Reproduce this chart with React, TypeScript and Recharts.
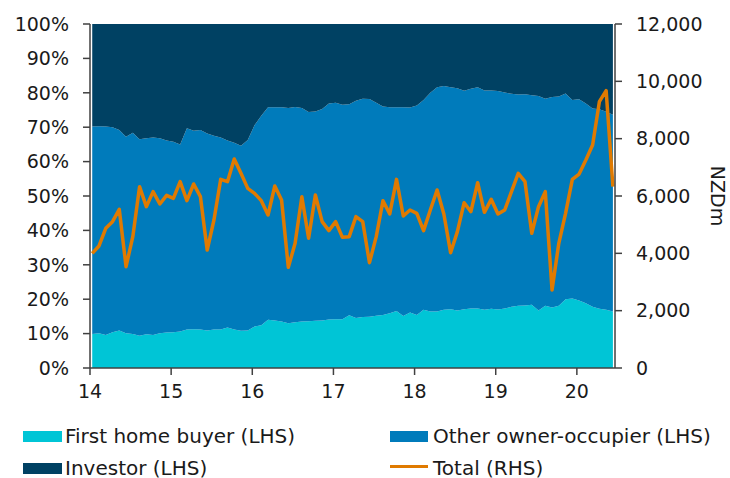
import React from 'react';
import { ComposedChart, Area, Line, XAxis, YAxis } from 'recharts';

// Monthly, Jan 2014 - Jun 2020
const firstHome = [
  9.9, 10.1, 9.6, 10.4, 10.9, 10.1, 9.9, 9.4, 9.8, 9.6, 10.1, 10.3,
  10.4, 10.6, 11.2, 11.3, 11.2, 10.9, 11.2, 11.2, 11.8, 11.2, 10.8, 10.9,
  12.1, 12.4, 14.0, 13.8, 13.5, 13.0, 13.3, 13.5, 13.6, 13.7, 13.8, 14.1,
  14.2, 14.2, 15.3, 14.5, 14.8, 14.9, 15.2, 15.4, 15.9, 16.6, 15.1, 16.1,
  15.4, 16.9, 16.4, 16.4, 16.9, 17.1, 16.7, 17.1, 17.3, 17.3, 16.9, 17.2,
  17.0, 17.3, 17.8, 18.1, 18.2, 18.4, 16.7, 18.1, 17.6, 18.1, 20.0, 20.2,
  19.6, 18.8, 17.8, 17.2, 16.9, 16.4,
];

const otherOwner = [
  60.3, 60.2, 60.6, 59.6, 58.3, 57.1, 58.5, 57.1, 57.0, 57.4, 56.7, 55.8,
  55.4, 54.4, 58.5, 57.7, 58.0, 57.3, 56.3, 55.8, 54.3, 54.3, 53.8, 55.4,
  58.5, 60.9, 61.8, 62.0, 62.3, 62.6, 62.6, 62.1, 60.8, 60.9, 61.5, 62.8,
  62.9, 62.3, 61.4, 63.2, 63.5, 63.3, 61.9, 60.6, 59.9, 59.2, 60.7, 59.6,
  60.9, 61.0, 63.6, 65.2, 65.1, 64.5, 64.6, 63.5, 63.9, 64.3, 63.8, 63.5,
  63.5, 62.8, 61.9, 61.4, 61.4, 60.9, 62.4, 60.2, 61.2, 60.8, 59.8, 57.7,
  58.5, 58.1, 57.6, 58.0, 57.6, 57.2,
];

const investor = [
  29.8, 29.7, 29.8, 30.0, 30.8, 32.8, 31.6, 33.5, 33.2, 33.0, 33.2, 33.9,
  34.2, 35.0, 30.3, 31.0, 30.8, 31.8, 32.5, 33.0, 33.9, 34.5, 35.4, 33.7,
  29.4, 26.7, 24.2, 24.2, 24.2, 24.4, 24.1, 24.4, 25.6, 25.4, 24.7, 23.1,
  22.9, 23.5, 23.3, 22.3, 21.7, 21.8, 22.9, 24.0, 24.2, 24.2, 24.2, 24.3,
  23.7, 22.1, 20.0, 18.4, 18.0, 18.4, 18.7, 19.4, 18.8, 18.4, 19.3, 19.3,
  19.5, 19.9, 20.3, 20.5, 20.4, 20.7, 20.9, 21.7, 21.2, 21.1, 20.2, 22.1,
  21.9, 23.1, 24.6, 24.8, 25.5, 26.4,
];

const total = [
  4000, 4256, 4872, 5105, 5535, 3535, 4581, 6326, 5628, 6152, 5721, 6023,
  5919, 6500, 5837, 6419, 5977, 4116, 5163, 6581, 6500, 7291, 6791, 6267,
  6093, 5837, 5337, 6349, 5860, 3512, 4349, 5977, 4523, 6035, 5105, 4791,
  5105, 4558, 4581, 5279, 5105, 3674, 4581, 5837, 5372, 6581, 5302, 5512,
  5395, 4791, 5512, 6209, 5372, 4023, 4756, 5767, 5453, 6465, 5430, 5884,
  5372, 5512, 6152, 6791, 6500, 4698, 5628, 6152, 2721, 4349, 5395, 6581,
  6767, 7256, 7779, 9291, 9674, 6326,
];

const startYear = 14;
const xTicks = [14, 15, 16, 17, 18, 19, 20];
const leftTicks = [0, 10, 20, 30, 40, 50, 60, 70, 80, 90, 100];
const rightTicks = [0, 2000, 4000, 6000, 8000, 10000, 12000];

const seriesNames = {
  firstHome: 'First home buyer (LHS)',
  otherOwner: 'Other owner-occupier (LHS)',
  investor: 'Investor (LHS)',
  total: 'Total (RHS)',
};

const COLORS = {
  firstHome: '#00C5D6',
  otherOwner: '#007BBB',
  investor: '#004163',
  total: '#E07A00',
};

const data = firstHome.map((v, i) => ({
  x: startYear + (i + 0.33) / 12,
  firstHome: v,
  otherOwner: otherOwner[i],
  investor: investor[i],
  total: total[i],
}));

const FONT = '"DejaVu Sans", Verdana, sans-serif';
const AXIS = '#404040';
const TEXT = '#1a1a1a';

const tickStyle = { fill: TEXT, fontSize: 19, fontFamily: FONT };

const NzdLabel = (props: any) => {
  const vb = props.viewBox || {};
  const x = vb.x + vb.width - 12;
  const y = vb.y + vb.height / 2;
  return (
    <text
      x={x}
      y={y}
      transform={`rotate(90 ${x} ${y})`}
      textAnchor="middle"
      dominantBaseline="central"
      fill={TEXT}
      fontSize={19}
      fontFamily={FONT}
    >
      NZDm
    </text>
  );
};

const LF = 20;

const Legendbox = () => (
  <svg
    width={730}
    height={478}
    style={{ position: 'absolute', left: 0, top: 0, pointerEvents: 'none' }}
  >
    <rect x={23} y={431} width={39} height={11} fill={COLORS.firstHome} />
    <text x={65} y={443} fontSize={LF} fontFamily={FONT} fill={TEXT}>
      {seriesNames.firstHome}
    </text>
    <rect x={390} y={431} width={38} height={11} fill={COLORS.otherOwner} />
    <text x={433} y={443} fontSize={LF} fontFamily={FONT} fill={TEXT}>
      {seriesNames.otherOwner}
    </text>
    <rect x={23} y={463} width={39} height={11} fill={COLORS.investor} />
    <text x={65} y={474.5} fontSize={LF} fontFamily={FONT} fill={TEXT}>
      {seriesNames.investor}
    </text>
    <line x1={390} x2={428} y1={466.5} y2={466.5} stroke={COLORS.total} strokeWidth={3} />
    <text x={433} y={474.5} fontSize={LF} fontFamily={FONT} fill={TEXT}>
      {seriesNames.total}
    </text>
  </svg>
);

export default function App() {
  return (
    <div style={{ position: 'relative', width: 730, height: 478, background: '#fff' }}>
      <style>{`body{margin:0;}`}</style>
      <ComposedChart
        width={730}
        height={478}
        data={data}
        margin={{ top: 24, right: 0, bottom: 80, left: 0 }}
      >
        <XAxis
          dataKey="x"
          type="number"
          domain={[14, 20.47]}
          ticks={xTicks}
          tick={tickStyle}
          tickSize={7}
          tickMargin={10}
          height={30}
          axisLine={{ stroke: AXIS, strokeWidth: 1.5 }}
          tickLine={{ stroke: AXIS, strokeWidth: 1.5 }}
          allowDataOverflow
        />
        <YAxis
          yAxisId="left"
          orientation="left"
          domain={[0, 100]}
          ticks={leftTicks}
          tickFormatter={(v: number) => `${v}%`}
          tick={tickStyle}
          tickSize={7}
          tickMargin={14}
          width={90}
          axisLine={{ stroke: AXIS, strokeWidth: 1.5 }}
          tickLine={{ stroke: AXIS, strokeWidth: 1.5 }}
          allowDataOverflow
        />
        <YAxis
          yAxisId="right"
          orientation="right"
          domain={[0, 12000]}
          ticks={rightTicks}
          tickFormatter={(v: number) => v.toLocaleString('en-US')}
          tick={{ ...tickStyle, textAnchor: 'start' }}
          tickSize={7}
          tickMargin={14}
          width={115}
          axisLine={{ stroke: AXIS, strokeWidth: 1.5 }}
          tickLine={{ stroke: AXIS, strokeWidth: 1.5 }}
          label={<NzdLabel />}
          allowDataOverflow
        />
        <Area
          yAxisId="left"
          dataKey="firstHome"
          name={seriesNames.firstHome}
          stackId="a"
          type="linear"
          fill={COLORS.firstHome}
          fillOpacity={1}
          stroke="none"
          isAnimationActive={false}
        />
        <Area
          yAxisId="left"
          dataKey="otherOwner"
          name={seriesNames.otherOwner}
          stackId="a"
          type="linear"
          fill={COLORS.otherOwner}
          fillOpacity={1}
          stroke="none"
          isAnimationActive={false}
        />
        <Area
          yAxisId="left"
          dataKey="investor"
          name={seriesNames.investor}
          stackId="a"
          type="linear"
          fill={COLORS.investor}
          fillOpacity={1}
          stroke="none"
          isAnimationActive={false}
        />
        <Line
          yAxisId="right"
          dataKey="total"
          name={seriesNames.total}
          type="linear"
          stroke={COLORS.total}
          strokeWidth={3.5}
          dot={false}
          strokeLinejoin="round"
          isAnimationActive={false}
        />
      </ComposedChart>
      <Legendbox />
    </div>
  );
}
